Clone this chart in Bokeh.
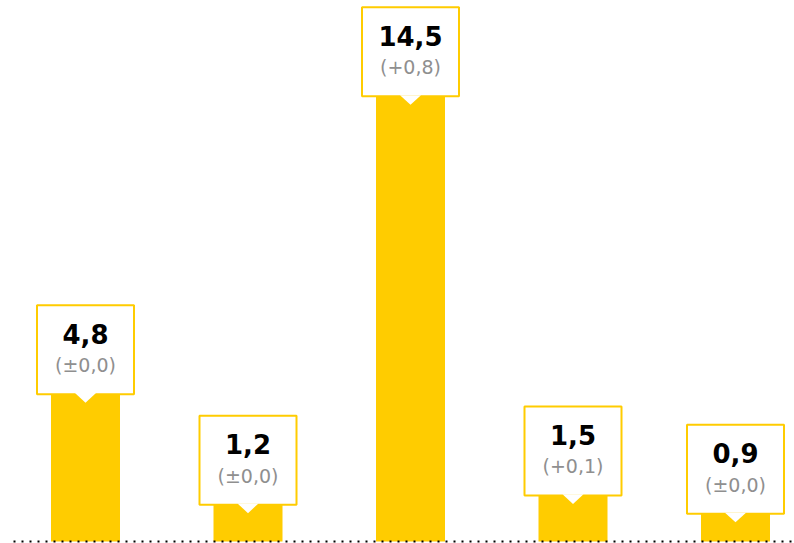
from bokeh.plotting import figure
from bokeh.models import Range1d, ColumnDataSource
from bokeh.embed import file_html
from bokeh.resources import INLINE
from bokeh.core.properties import value

# ---- data ----
positions = [0, 1, 2, 3, 4]
values = [4.8, 1.2, 14.5, 1.5, 0.9]
value_labels = ["4,8", "1,2", "14,5", "1,5", "0,9"]
change_labels = ["(\u00b10,0)", "(\u00b10,0)", "(+0,8)", "(+0,1)", "(\u00b10,0)"]

# ---- layout constants (screen pixels) ----
W, H = 794, 543
XPX = 162.5          # px per x unit
YPX = 30.7           # px per y unit
X0 = 85              # screen x of first bar centre
Y0 = 541             # screen y of baseline (from top)

BAR_W = 69 / XPX
BOX_HW = 48.5 / XPX
BOX_H = 89 / YPX
TRI_HW = 9.5 / XPX
TRI_D = 8.5 / YPX
YELLOW = "#FFCC00"

x_start = -X0 / XPX
y_start = -(H - Y0) / YPX

p = figure(width=W, height=H, output_backend="svg", toolbar_location=None,
           x_range=Range1d(x_start, x_start + W / XPX),
           y_range=Range1d(y_start, y_start + H / YPX),
           min_border=0, outline_line_color=None,
           background_fill_color="white", border_fill_color="white")
p.axis.visible = False
p.grid.visible = False

src = ColumnDataSource(dict(
    x=positions, top=values,
    left=[x - BOX_HW for x in positions],
    right=[x + BOX_HW for x in positions],
    btop=[v + BOX_H for v in values],
    ty1=[v + BOX_H - 28.5 / YPX for v in values],
    ty2=[v + BOX_H - 60 / YPX for v in values],
    vl=value_labels, cl=change_labels,
))

# bars
p.vbar(x="x", top="top", bottom=0, width=BAR_W, source=src,
       fill_color=YELLOW, line_color=None)

# dotted baseline
p.line(x=[x_start + 13 / XPX, x_start + W / XPX], y=[0, 0],
       line_color="black", line_width=2, line_dash="2 6", line_cap="butt")

# label boxes
p.quad(left="left", right="right", bottom="top", top="btop", source=src,
       fill_color="white", line_color=YELLOW, line_width=2)

# pointer notches
xs = [[x - TRI_HW - 1 / XPX, x + TRI_HW + 1 / XPX, x] for x in positions]
ys = [[v + 1.2 / YPX, v + 1.2 / YPX, v - TRI_D] for v in values]
p.patches(xs=xs, ys=ys, fill_color="white", line_color=None)

# texts
p.text(x="x", y="ty1", text="vl", source=src, text_align="center",
       text_baseline="alphabetic", text_font=value("DejaVu Sans"),
       text_font_style="bold", text_font_size="26px", text_color="black")
p.text(x="x", y="ty2", text="cl", source=src, text_align="center",
       text_baseline="alphabetic", text_font=value("DejaVu Sans"),
       text_font_size="19px", text_color="#8f8f8f")

open("out.html", "w").write(file_html(p, INLINE))
